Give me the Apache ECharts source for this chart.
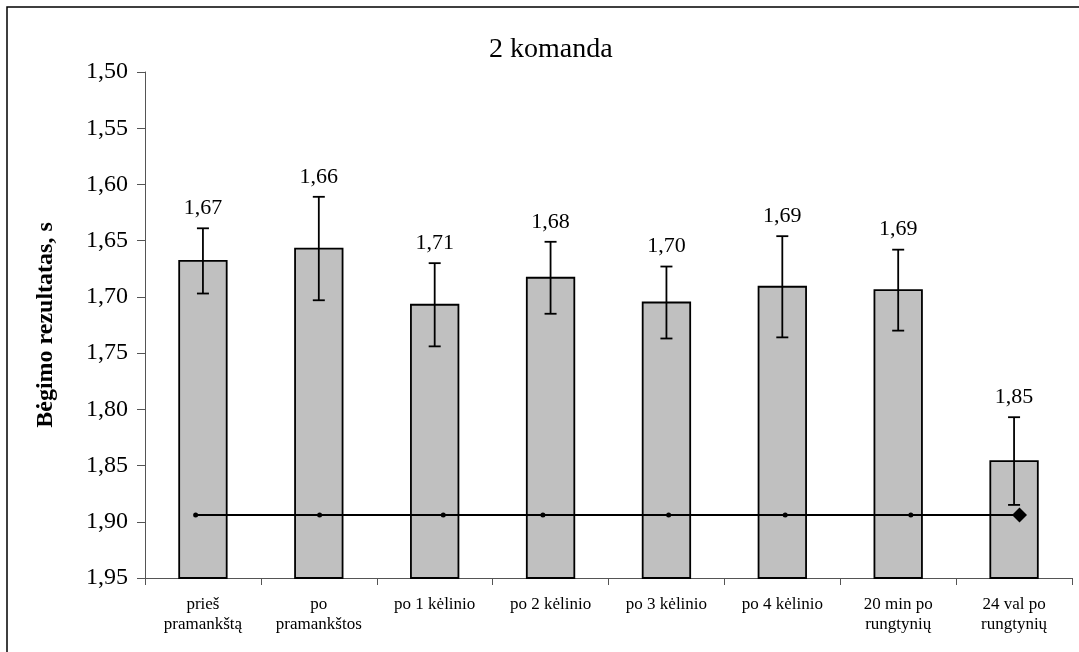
<!DOCTYPE html>
<html>
<head>
<meta charset="utf-8">
<script src="https://cdn.jsdelivr.net/npm/echarts@6/dist/echarts.min.js"></script>
<style>html,body{margin:0;padding:0;background:#fff;}#c{width:1079px;height:652px;}</style>
</head>
<body>
<div id="c"></div>
<script>
const categories = ["prieš\npramankštą", "po\npramankštos", "po 1 kėlinio", "po 2 kėlinio", "po 3 kėlinio", "po 4 kėlinio", "20 min po\nrungtynių", "24 val po\nrungtynių"];
const means = [1.668, 1.657, 1.707, 1.683, 1.705, 1.691, 1.694, 1.846];
const errors = [0.029, 0.046, 0.037, 0.032, 0.032, 0.045, 0.036, 0.039];
const valueLabels = ["1,67", "1,66", "1,71", "1,68", "1,70", "1,69", "1,69", "1,85"];
const lineX = [0.437, 1.507, 2.574, 3.434, 4.519, 5.525, 6.609, 7.547];
const lineY = [1.894, 1.894, 1.894, 1.894, 1.894, 1.894, 1.894, 1.894];
const yMin = 1.50, yMax = 1.95, yStep = 0.05;

const FONT = "'Liberation Serif', 'DejaVu Serif', serif";
const chart = echarts.init(document.getElementById('c'));

const barData = means.map((m, i) => [i, m, errors[i]]);
const lineData = lineX.map((x, i) => ({
  value: [x, lineY[i]],
  symbol: i === lineX.length - 1 ? 'diamond' : 'circle',
  symbolSize: i === lineX.length - 1 ? 15 : 5
}));

chart.setOption({
  animation: false,
  title: {
    text: '2 komanda',
    left: 484, top: 31,
    textStyle: { fontFamily: FONT, fontSize: 28, fontWeight: 'normal', color: '#000' }
  },
  graphic: [{
    type: 'rect', silent: true,
    shape: { x: 7, y: 7, width: 1200, height: 1000 },
    style: { fill: 'none', stroke: '#000', lineWidth: 1.5 }
  }],
  grid: { left: 145, right: 7, top: 72, bottom: 74, containLabel: false },
  xAxis: [{
    type: 'category',
    data: categories,
    boundaryGap: true,
    axisLine: { show: true, lineStyle: { color: '#555', width: 1 } },
    axisTick: { show: true, length: 7, lineStyle: { color: '#555' } },
    axisLabel: { interval: 0, margin: 17, fontFamily: FONT, fontSize: 17, lineHeight: 20, color: '#000' },
    splitLine: { show: false }
  }, {
    type: 'value', min: 0, max: 8, show: false, position: 'bottom'
  }],
  yAxis: {
    type: 'value', inverse: true,
    min: yMin, max: yMax, interval: yStep,
    name: 'Bėgimo rezultatas, s',
    nameLocation: 'middle', nameGap: 87, nameRotate: 90,
    nameTextStyle: { fontFamily: FONT, fontSize: 24, fontWeight: 'bold', color: '#000' },
    axisLine: { show: true, lineStyle: { color: '#555', width: 1 } },
    axisTick: { show: true, length: 8, lineStyle: { color: '#555' } },
    axisLabel: {
      margin: 17, fontFamily: FONT, fontSize: 24, color: '#000',
      formatter: v => v.toFixed(2).replace('.', ',')
    },
    splitLine: { show: false }
  },
  series: [{
    type: 'custom',
    xAxisIndex: 0, yAxisIndex: 0,
    encode: { x: 0, y: 1 },
    data: barData,
    z: 2,
    renderItem: function (params, api) {
      const i = api.value(0);
      const m = api.value(1);
      const e = api.value(2);
      const top = api.coord([i, m]);
      const base = api.coord([i, yMax]);
      const w = api.size([1, 0])[0] * 0.41;
      const eTop = api.coord([i, m - e]);
      const eBot = api.coord([i, m + e]);
      const cap = 6;
      const label = valueLabels[params.dataIndex];
      return {
        type: 'group',
        children: [{
          type: 'rect',
          shape: { x: top[0] - w / 2, y: top[1], width: w, height: base[1] - top[1] },
          style: { fill: '#c0c0c0', stroke: '#000', lineWidth: 1.8 }
        }, {
          type: 'line', shape: { x1: eTop[0], y1: eTop[1], x2: eBot[0], y2: eBot[1] },
          style: { stroke: '#000', lineWidth: 1.8 }
        }, {
          type: 'line', shape: { x1: eTop[0] - cap, y1: eTop[1], x2: eTop[0] + cap, y2: eTop[1] },
          style: { stroke: '#000', lineWidth: 1.8 }
        }, {
          type: 'line', shape: { x1: eBot[0] - cap, y1: eBot[1], x2: eBot[0] + cap, y2: eBot[1] },
          style: { stroke: '#000', lineWidth: 1.8 }
        }, {
          type: 'text',
          style: {
            x: eTop[0], y: eTop[1] - 20, text: label,
            font: "22px " + FONT, fill: '#000',
            align: 'center', verticalAlign: 'middle'
          }
        }]
      };
    }
  }, {
    type: 'line',
    xAxisIndex: 1, yAxisIndex: 0,
    data: lineData,
    z: 5,
    lineStyle: { color: '#000', width: 2 },
    itemStyle: { color: '#000' },
    showAllSymbol: true
  }]
});
</script>
</body>
</html>
